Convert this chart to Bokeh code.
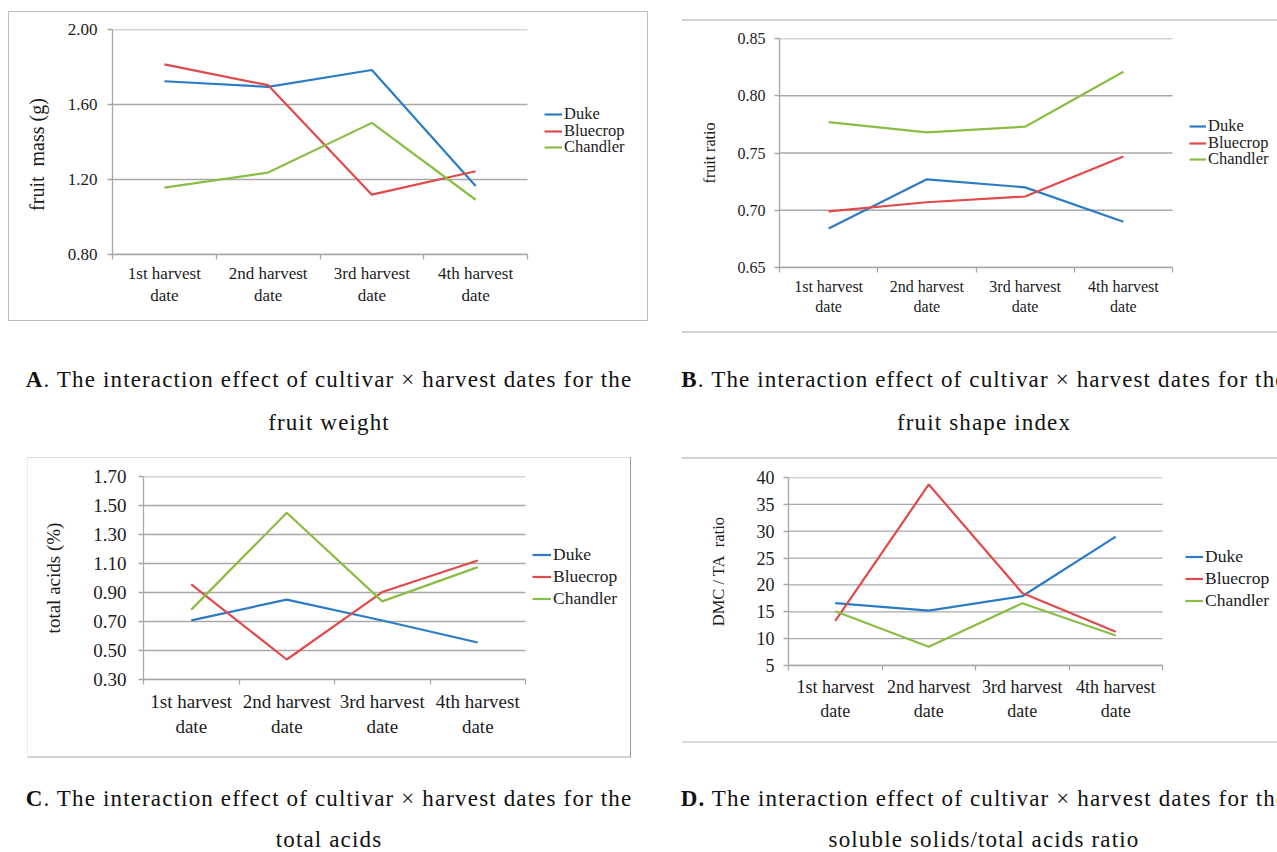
from bokeh.embed import file_html
from bokeh.layouts import column, row
from bokeh.models import Div, FixedTicker, Legend, LegendItem, PrintfTickFormatter, Range1d
from bokeh.plotting import figure
from bokeh.resources import INLINE

# ---- data -----------------------------------------------------------------
harvest_dates = ["1st harvest\ndate", "2nd harvest\ndate", "3rd harvest\ndate", "4th harvest\ndate"]
cultivars = ["Duke", "Bluecrop", "Chandler"]
cultivar_colors = ["#2b7cc4", "#e04a4a", "#8bbd45"]

# A: fruit weight (g)
mass_duke = [1.724, 1.694, 1.784, 1.165]
mass_bluecrop = [1.814, 1.703, 1.119, 1.244]
mass_chandler = [1.157, 1.237, 1.502, 1.092]
mass_ticks = [0.80, 1.20, 1.60, 2.00]

# B: fruit shape index
ratio_duke = [0.684, 0.727, 0.720, 0.690]
ratio_bluecrop = [0.699, 0.707, 0.712, 0.747]
ratio_chandler = [0.777, 0.768, 0.773, 0.821]
ratio_ticks = [0.65, 0.70, 0.75, 0.80, 0.85]

# C: total acids (%)
acids_duke = [0.708, 0.851, 0.707, 0.555]
acids_bluecrop = [0.956, 0.438, 0.903, 1.121]
acids_chandler = [0.782, 1.450, 0.839, 1.075]
acids_ticks = [0.30, 0.50, 0.70, 0.90, 1.10, 1.30, 1.50, 1.70]

# D: soluble solids / total acids ratio
dmc_duke = [16.6, 15.2, 17.9, 29.0]
dmc_bluecrop = [13.3, 38.7, 18.5, 11.3]
dmc_chandler = [15.1, 8.5, 16.6, 10.6]
dmc_ticks = [5, 10, 15, 20, 25, 30, 35, 40]

FONT = "Liberation Serif"
GRID = "#a8a8a8"
INK = "#1c1c1c"
NBSP = "\u00a0"


def line_panel(series, y_ticks, y_label, y_format, size, borders, plot_width,
               fonts, standoffs, legend_spec, box_styles):
    """Line chart whose frame also holds the legend to the right of the data area."""
    w, h = size
    b_left, b_right, b_top, b_bottom = borders
    tick_fs, title_fs, legend_fs = fonts
    y_std, title_std, x_std = standoffs
    n = len(harvest_dates)
    centers = [i + 0.5 for i in range(n)]
    bounds = list(range(n + 1))
    frame_width = w - b_left - b_right
    x_end = n * frame_width / plot_width

    p = figure(width=w, height=h, x_range=Range1d(0, x_end),
               y_range=Range1d(y_ticks[0], y_ticks[-1]),
               min_border_left=b_left, min_border_right=b_right,
               min_border_top=b_top, min_border_bottom=b_bottom,
               output_backend="svg", toolbar_location=None, tools="",
               outline_line_color=None, background_fill_color="white",
               border_fill_color="white", styles=box_styles)

    # horizontal gridlines over the date span only
    p.segment(x0=[0] * len(y_ticks), x1=[n] * len(y_ticks), y0=y_ticks, y1=y_ticks,
              line_color=GRID, line_width=1.3, level="underlay")

    renderers = []
    for color, values in zip(cultivar_colors, series):
        renderers.append(p.line(centers, values, line_color=color, line_width=2.2))

    # category axis: labels centred on each date, ticks on the boundaries
    xa = p.xaxis[0]
    xa.bounds = (0, n)
    xa.ticker = FixedTicker(ticks=centers, minor_ticks=bounds)
    xa.major_label_overrides = {c: lab for c, lab in zip(centers, harvest_dates)}
    xa.major_tick_out = 0
    xa.major_tick_in = 0
    xa.minor_tick_out = 5
    xa.minor_tick_in = 0
    xa.minor_tick_line_color = GRID
    xa.minor_tick_line_width = 1.3
    xa.axis_line_color = GRID
    xa.axis_line_width = 1.3
    xa.major_label_text_font = FONT
    xa.major_label_text_font_size = f"{tick_fs}px"
    xa.major_label_text_color = INK
    xa.major_label_standoff = x_std

    ya = p.yaxis[0]
    ya.ticker = FixedTicker(ticks=y_ticks, minor_ticks=[])
    ya.formatter = PrintfTickFormatter(format=y_format)
    ya.major_tick_out = 5
    ya.major_tick_in = 0
    ya.major_tick_line_color = GRID
    ya.major_tick_line_width = 1.3
    ya.axis_line_color = GRID
    ya.axis_line_width = 1.3
    ya.major_label_text_font = FONT
    ya.major_label_text_font_size = f"{tick_fs}px"
    ya.major_label_text_color = INK
    ya.major_label_standoff = y_std
    ya.axis_label = y_label
    ya.axis_label_text_font = FONT
    ya.axis_label_text_font_style = "normal"
    ya.axis_label_text_font_size = f"{title_fs}px"
    ya.axis_label_text_color = INK
    ya.axis_label_standoff = title_std

    p.xgrid.visible = False
    p.ygrid.visible = False

    # one legend entry per cultivar, stacked with a fixed row pitch
    lx, first_row, pitch, item_h, glyph_w = legend_spec
    for i, (name, r) in enumerate(zip(cultivars, renderers)):
        legend = Legend(items=[LegendItem(label=name, renderers=[r])],
                        location=(lx, first_row - i * pitch - item_h / 2),
                        padding=0, margin=0, spacing=0,
                        glyph_width=glyph_w, glyph_height=item_h,
                        label_height=item_h, label_standoff=2,
                        label_text_font=FONT, label_text_font_size=f"{legend_fs}px",
                        label_text_color=INK, border_line_color=None,
                        background_fill_alpha=0)
        p.add_layout(legend)
    return p


def caption(bold, rest, second_line, width, inner_width, top_pad, gap, height, clip):
    html = (f'<div style="width:{inner_width}px;padding-top:{top_pad}px;text-align:center;'
            f"font-family:'{FONT}';font-size:23px;letter-spacing:1.15px;"
            f'color:#111;white-space:nowrap">'
            f'<div style="height:20px;line-height:20px"><b>{bold}</b>{rest}</div>'
            f'<div style="height:18px;line-height:18px;margin-top:{gap}px">{second_line}</div></div>')
    styles = {"overflow": "hidden"} if clip else {}
    return Div(text=html, width=width, height=height, margin=(0, 0, 0, 0), styles=styles)


fig_a = line_panel([mass_duke, mass_bluecrop, mass_chandler], mass_ticks,
                   f"fruit{NBSP} mass (g){NBSP * 5}", "%.2f", (640, 310), (103, 2, 17, 67), 415,
                   (17, 20, 16.5), (10, 17, 4), (432, 140, 16.5, 20, 18),
                   {"border": "1px solid #bdbdbd"})
fig_a.margin = (11, 34, 19, 8)

fig_b = line_panel([ratio_duke, ratio_bluecrop, ratio_chandler], ratio_ticks,
                   "fruit ratio", "%.2f", (595, 314), (97, 0, 17, 68), 393,
                   (16, 16, 16.5), (9, 17, 5), (410, 141, 16.5, 20, 17),
                   {"border-top": "2px solid #d2d2d2", "border-bottom": "2px solid #d2d2d2"})
fig_b.margin = (19, 0, 7, 0)

fig_c = line_panel([acids_duke, acids_bluecrop, acids_chandler], acids_ticks,
                   "total acids (%)", "%.2f", (604, 301), (115, 2, 18, 80), 382,
                   (19, 19, 17.5), (12, 26, 6), (389, 125, 22, 21, 19),
                   {"border-top": "1px solid #dcdcdc", "border-left": "1px solid #ececec",
                    "border-right": "1px solid #9a9a9a", "border-bottom": "2px solid #d4d4d4"})
fig_c.margin = (7, 51, 2, 27)

fig_d = line_panel([dmc_duke, dmc_bluecrop, dmc_chandler], dmc_ticks,
                   f"DMC / TA{NBSP} ratio", "%d", (595, 286), (106, 0, 16, 77), 374,
                   (18, 16.5, 17.5), (9, 26, 6), (397, 109, 22, 21, 18),
                   {"border-top": "2px solid #d2d2d2", "border-bottom": "2px solid #dcdcdc"})
fig_d.margin = (7, 0, 17, 0)

cap_a = caption("A", ". The interaction effect of cultivar × harvest dates for the",
                "fruit weight", 658, 658, 30, 24, 110, False)
cap_b = caption("B", ". The interaction effect of cultivar × harvest dates for the",
                "fruit shape index", 619, 652, 30, 24, 110, True)
cap_c = caption("C", ". The interaction effect of cultivar × harvest dates for the",
                "total acids", 658, 658, 29, 22, 92, False)
cap_d = caption("D.", " The interaction effect of cultivar × harvest dates for the",
                "soluble solids/total acids ratio", 619, 652, 29, 22, 92, True)

page = column(row(fig_a, fig_b), row(cap_a, cap_b), row(fig_c, fig_d), row(cap_c, cap_d))

open("out.html", "w").write(file_html(page, INLINE))
